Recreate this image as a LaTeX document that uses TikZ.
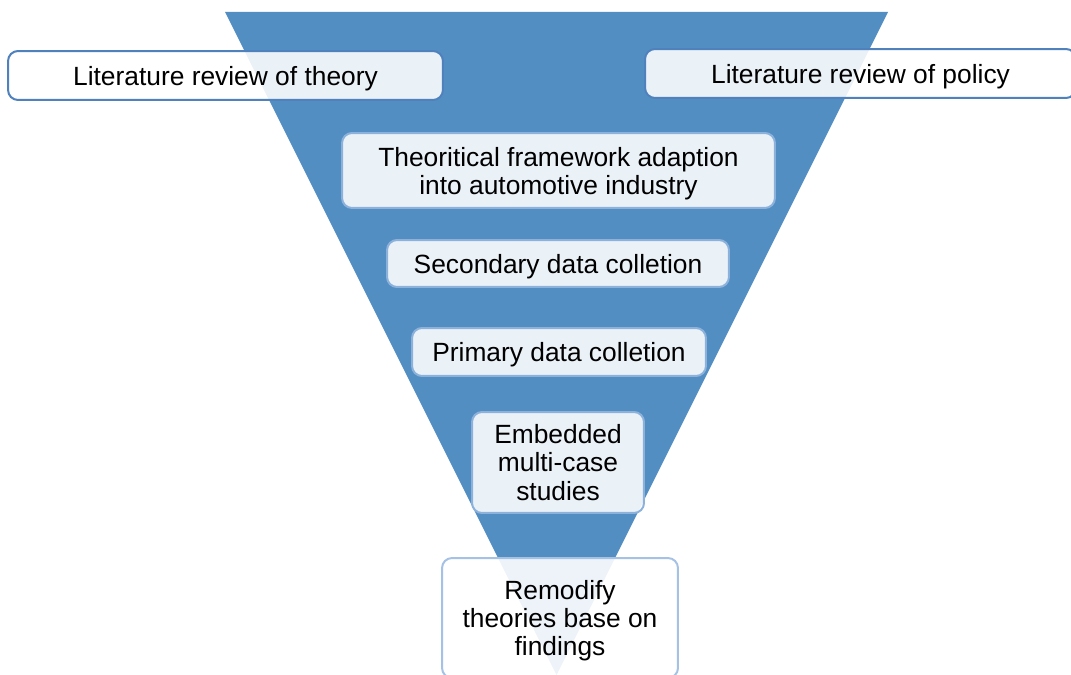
\documentclass[tikz,border=0pt]{standalone}
\usepackage{fontspec}
\setmainfont{Liberation Sans}
\usepackage{xcolor}
\usepackage{tikz}
\usetikzlibrary{positioning}
\definecolor{funnelblue}{RGB}{83,142,195}
\definecolor{edgeblue}{RGB}{79,129,189}
\definecolor{inneredge}{RGB}{140,178,220}
\definecolor{lowedge}{RGB}{165,194,229}
\newcommand{\toprule}{\rule{0pt}{0.5cm}}

\begin{document}
\begin{tikzpicture}[x=0.02cm,y=-0.02cm,
	box/.style={rounded corners=0.2cm, inner sep=0pt, line width=0.04cm, fill=white, fill opacity=0.88, text opacity=1, align=center, font=\fontsize{15}{16}\selectfont},
	oneline/.style={text height=0.5cm},
	topbox/.style={box, oneline, draw=edgeblue},
	midbox/.style={box, draw=inneredge},
	lowbox/.style={box, draw=lowedge, fill opacity=0.9}]
	\useasboundingbox (0,0) rectangle (1071,675);
	\clip (0,0) rectangle (1071,675);
	% funnel
	\fill[funnelblue] (225,12) -- (888,12) -- (556.5,675) -- cycle;
	% boxes
	\node[topbox, minimum width=8.7cm, minimum height=0.98cm] (theory) at (225.5,75.5) {Literature review of theory};
	\node[topbox, minimum width=8.62cm, minimum height=0.98cm] (policy) at (860.5,73.5) {Literature review of policy};
	\node[midbox, minimum width=8.66cm, minimum height=1.5cm] (frame) at (558.5,170.5) {\toprule Theoritical framework adaption\\into automotive industry};
	\node[midbox, oneline, minimum width=6.84cm, minimum height=0.94cm] (second) at (558,263.5) {Secondary data colletion};
	\node[midbox, oneline, minimum width=5.88cm, minimum height=0.96cm] (primary) at (559,352) {Primary data colletion};
	\node[midbox, minimum width=3.44cm, minimum height=2.02cm] (cases) at (558,462.5) {Embedded\\multi-case\\studies};
	\node[lowbox, minimum width=4.72cm, minimum height=2.4cm] (remodify) at (560,618) {\toprule Remodify\\theories base on\\findings};
\end{tikzpicture}
\end{document}
